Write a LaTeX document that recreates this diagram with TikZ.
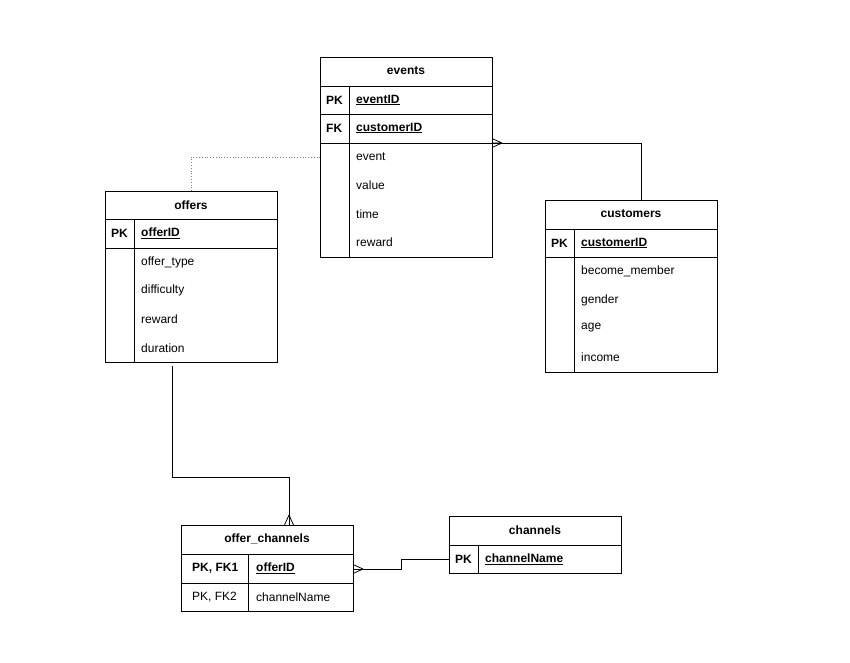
\documentclass[tikz,border=0pt]{standalone}
\usepackage{fontspec}
\setmainfont{Liberation Sans}
\begin{document}
\begin{tikzpicture}[x=1pt,y=-1pt,
  box/.style={draw,line width=0.8pt,anchor=north west,inner sep=0pt},
  txt/.style={anchor=west,inner sep=0pt,font=\fontsize{12}{14}\selectfont},
  hd/.style={anchor=center,inner sep=0pt,font=\fontsize{12}{14}\selectfont\bfseries},
  ln/.style={line width=0.8pt},
  conn/.style={line width=0.8pt}]
\useasboundingbox (0,0) rectangle (850,662);
% events
\node[box,minimum width=172pt,minimum height=200pt] (ev) at (320,57) {};
\node[hd] (evh) at (406,71) {events};
\draw[ln] (320,86)--(492,86) (320,114)--(492,114) (320,143)--(492,143) (349,86)--(349,257);
\node[txt,font=\fontsize{12}{14}\selectfont\bfseries] (evpk) at (326,100) {PK};
\node[txt,font=\fontsize{12}{14}\selectfont\bfseries] (evk1) at (356,100) {\underline{eventID}};
\node[txt,font=\fontsize{12}{14}\selectfont\bfseries] (evfk) at (326,128) {FK};
\node[txt,font=\fontsize{12}{14}\selectfont\bfseries] (evk2) at (356,128) {\underline{customerID}};
\node[txt] (ev1) at (356,157) {event};
\node[txt] (ev2) at (356,185) {value};
\node[txt] (ev3) at (356,214) {time};
\node[txt] (ev4) at (356,242) {reward};
% offers
\node[box,minimum width=172pt,minimum height=171pt] (of) at (105,191) {};
\node[hd] (ofh) at (191,205) {offers};
\draw[ln] (105,219)--(277,219) (105,248)--(277,248) (134,219)--(134,362);
\node[txt,font=\fontsize{12}{14}\selectfont\bfseries] (ofpk) at (111,233) {PK};
\node[txt,font=\fontsize{12}{14}\selectfont\bfseries] (ofk) at (141,233) {\underline{offerID}};
\node[txt] (of1) at (141,262) {offer\_type};
\node[txt] (of2) at (141,290) {difficulty};
\node[txt] (of3) at (141,319) {reward};
\node[txt] (of4) at (141,348) {duration};
% customers
\node[box,minimum width=172pt,minimum height=172pt] (cu) at (545,200) {};
\node[hd] (cuh) at (631,214) {customers};
\draw[ln] (545,229)--(717,229) (545,257)--(717,257) (574,229)--(574,372);
\node[txt,font=\fontsize{12}{14}\selectfont\bfseries] (cupk) at (551,243) {PK};
\node[txt,font=\fontsize{12}{14}\selectfont\bfseries] (cuk) at (581,243) {\underline{customerID}};
\node[txt] (cu1) at (581,271) {become\_member};
\node[txt] (cu2) at (581,300) {gender};
\node[txt] (cu3) at (581,328) {age};
\node[txt] (cu4) at (581,357) {income};
% offer_channels
\node[box,minimum width=172pt,minimum height=86pt] (oc) at (181,525) {};
\node[hd] (och) at (267,539) {offer\_channels};
\draw[ln] (181,554)--(353,554) (181,583)--(353,583) (248,554)--(248,611);
\node[txt,font=\fontsize{12}{14}\selectfont\bfseries] (ocpk) at (192,568) {PK, FK1};
\node[txt,font=\fontsize{12}{14}\selectfont\bfseries] (ock) at (256,568) {\underline{offerID}};
\node[txt] (ocpk2) at (192,597) {PK, FK2};
\node[txt] (oc2) at (256,597) {channelName};
% channels
\node[box,minimum width=172pt,minimum height=57pt] (ch) at (449,516) {};
\node[hd] (chh) at (535,530) {channels};
\draw[ln] (449,545)--(621,545) (478,545)--(478,573);
\node[txt,font=\fontsize{12}{14}\selectfont\bfseries] (chpk) at (455,559) {PK};
\node[txt,font=\fontsize{12}{14}\selectfont\bfseries] (chk) at (485,559) {\underline{channelName}};
% connectors
\coordinate (d1) at (191,191);
\coordinate (d2) at (320,157);
\draw[dotted,gray,line width=0.8pt] (d1) |- (d2);
\coordinate (c1) at (641,200);
\coordinate (c2) at (492,143);
\draw[conn] (c1) |- (c2);
\draw[conn] (492,143)--(502,143) (502,143)--(492,138.5) (502,143)--(492,147.5);
\coordinate (o1) at (172,366);
\coordinate (o2) at (289,525);
\draw[conn] (o1)--(172,477)--(289,477)--(o2);
\draw[conn] (289,515)--(284.5,525) (289,515)--(293.5,525);
\coordinate (h1) at (449,559);
\coordinate (h2) at (353,569);
\draw[conn] (h1)--(401,559)--(401,569)--(h2);
\draw[conn] (363,569)--(353,564.5) (363,569)--(353,573.5);
\end{tikzpicture}
\end{document}
